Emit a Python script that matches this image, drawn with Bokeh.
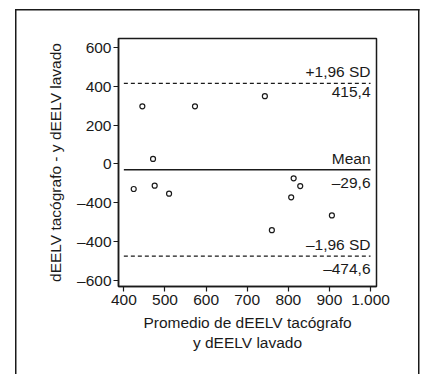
from bokeh.plotting import figure
from bokeh.models import Label, FixedTicker
from bokeh.embed import file_html
from bokeh.resources import INLINE

# data
avg_vals = [445, 573, 743, 471, 424, 475, 510, 813, 829, 807, 760, 906]
diff_vals = [297, 297, 349, 26, -129, -112, -153, -74, -114, -172, -341, -265]
mean_diff = -29.6
upper_loa = 415.4
lower_loa = -474.6
x_ticks = [400, 500, 600, 700, 800, 900, 1000]
x_tick_labels = ["400", "500", "600", "700", "800", "900", "1.000"]
y_ticks = [-600, -400, -200, 0, 200, 400, 600]
y_tick_labels = ["\u2013600", "\u2013400", "\u2013400", "0", "200", "400", "600"]
upper_texts = ["+1,96 SD", "415,4"]
mean_texts = ["Mean", "\u201329,6"]
lower_texts = ["\u20131,96 SD", "\u2013474,6"]

FONT = "Liberation Sans"
FS = "15.5px"
INK = "#1a1a1a"

p = figure(width=422, height=374, output_backend="svg", toolbar_location=None,
           x_range=(387, 1014.5), y_range=(-631, 646))
p.min_border_left = 118
p.min_border_right = 46
p.min_border_top = 38
p.min_border_bottom = 88
p.background_fill_color = "white"
p.border_fill_color = None
p.outline_line_color = INK
p.outline_line_width = 1.5
p.xgrid.visible = False
p.ygrid.visible = False

# outer frame of the panel (drawn as host background lines)
g = f"linear-gradient({INK},{INK})"
p.styles = {
    "background-color": "white",
    "background-image": ", ".join([g, g, g]),
    "background-position": "15px 9px, 15px 9px, 418px 9px",
    "background-size": "1.5px 380px, 404.5px 1.5px, 1.5px 380px",
    "background-repeat": "no-repeat",
}

for ax in (p.xaxis[0], p.yaxis[0]):
    ax.major_tick_out = 5
    ax.major_tick_in = 0
    ax.minor_tick_line_color = None
    ax.major_tick_line_color = INK
    ax.major_tick_line_width = 1.2
    ax.axis_line_color = INK
    ax.axis_line_width = 1.5
    ax.major_label_text_font = FONT
    ax.major_label_text_font_size = FS
    ax.major_label_text_color = INK
    ax.axis_label_text_font = FONT
    ax.axis_label_text_font_size = FS
    ax.axis_label_text_font_style = "normal"
    ax.axis_label_text_color = INK

p.xaxis[0].ticker = FixedTicker(ticks=x_ticks)
p.xaxis[0].major_label_overrides = dict(zip(x_ticks, x_tick_labels))
p.yaxis[0].ticker = FixedTicker(ticks=y_ticks)
p.yaxis[0].major_label_overrides = dict(zip(y_ticks, y_tick_labels))
p.xaxis[0].major_label_standoff = 3
p.yaxis[0].major_label_standoff = 2
p.xaxis[0].axis_label = "Promedio de dEELV tacógrafo\ny dEELV lavado"
p.yaxis[0].axis_label = "dEELV tacógrafo - y dEELV lavado"
p.xaxis[0].axis_label_standoff = 6
p.yaxis[0].axis_label_standoff = 10

# reference lines from 400 to 1000
p.line([x_ticks[0], x_ticks[-1]], [upper_loa, upper_loa], line_color=INK, line_width=1.3, line_dash="4 3")
p.line([x_ticks[0], x_ticks[-1]], [mean_diff, mean_diff], line_color=INK, line_width=1.5)
p.line([x_ticks[0], x_ticks[-1]], [lower_loa, lower_loa], line_color=INK, line_width=1.3, line_dash="4 3")

p.scatter(avg_vals, diff_vals, size=5, marker="circle", fill_color="white",
          line_color=INK, line_width=1.2)

for yv, texts in ((upper_loa, upper_texts), (mean_diff, mean_texts), (lower_loa, lower_texts)):
    p.add_layout(Label(x=x_ticks[-1], y=yv, text=texts[0], text_align="right",
                       text_baseline="bottom", y_offset=3, text_font=FONT,
                       text_font_size=FS, text_color=INK))
    p.add_layout(Label(x=x_ticks[-1], y=yv, text=texts[1], text_align="right",
                       text_baseline="top", y_offset=-4, text_font=FONT,
                       text_font_size=FS, text_color=INK))

open("out.html", "w").write(file_html(p, INLINE))
